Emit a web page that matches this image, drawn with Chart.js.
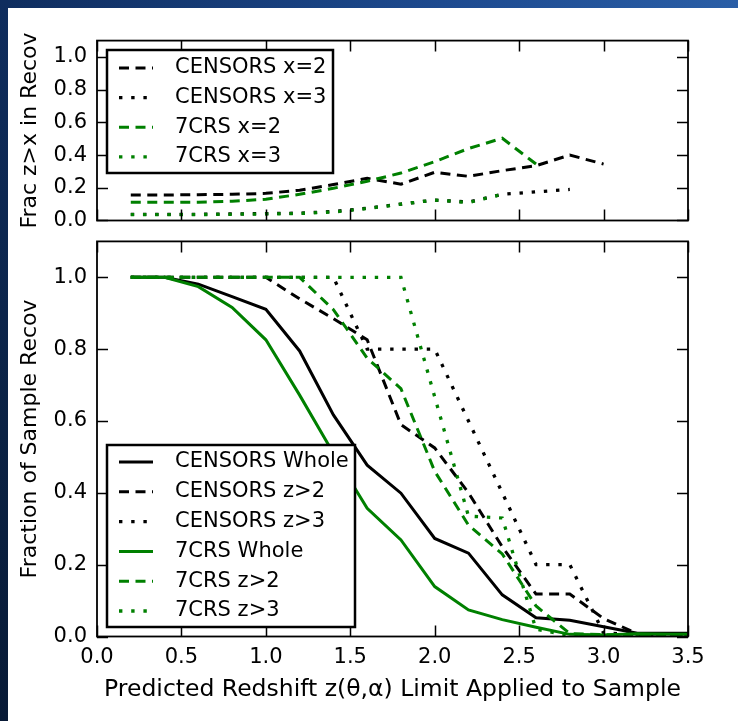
<!DOCTYPE html>
<html>
<head>
<meta charset="utf-8">
<script src="https://cdn.jsdelivr.net/npm/chart.js@4.4.1/dist/chart.umd.min.js"></script>
<style>
  html, body { margin: 0; padding: 0; }
  #page { position: relative; width: 738px; height: 721px; background: #fff; overflow: hidden; }
  #topband { position: absolute; left: 0; top: 0; width: 738px; height: 8px;
    background: linear-gradient(to right, #0f2d5e, #1d4a8f 60%, #2a5ea6); }
  #leftband { position: absolute; left: 0; top: 0; width: 8px; height: 721px;
    background: linear-gradient(to bottom, #0f2d5e, #0b2244 60%, #081a36); }
  canvas { position: absolute; left: 0; top: 0; }
</style>
</head>
<body>
<div id="page">
  <div id="topband"></div>
  <div id="leftband"></div>
  <canvas id="topChart" width="738" height="721"></canvas>
  <canvas id="bottomChart" width="738" height="721"></canvas>
</div>
<script>
// --- dados do painel superior (fração com z > x) ---
const zTop = [0.2, 0.4, 0.6, 0.8, 1.0, 1.2, 1.4, 1.6, 1.8, 2.0, 2.2, 2.4, 2.6, 2.8, 3.0]
const censorsX2 = [0.156, 0.156, 0.158, 0.16, 0.166, 0.185, 0.22, 0.258, 0.222, 0.295, 0.27, 0.305, 0.335, 0.40, 0.345]
const censorsX3 = [0.038, 0.038, 0.038, 0.04, 0.042, 0.045, 0.055, 0.075, 0.10, 0.125, 0.113, 0.16, 0.175, 0.19]
const crsX2 = [0.111, 0.111, 0.112, 0.118, 0.13, 0.16, 0.197, 0.24, 0.29, 0.36, 0.44, 0.503, 0.345]
const crsX3 = [0.036, 0.036, 0.036, 0.038, 0.04, 0.043, 0.052, 0.073, 0.10, 0.125, 0.11, 0.16]

// --- dados do painel inferior (fração da amostra recuperada) ---
const zBottom = [0.2, 0.4, 0.6, 0.8, 1.0, 1.2, 1.4, 1.6, 1.8, 2.0, 2.2, 2.4, 2.6, 2.8, 3.0, 3.2, 3.4, 3.6]
const censorsWhole = [1.0, 1.0, 0.981, 0.946, 0.911, 0.795, 0.617, 0.477, 0.399, 0.273, 0.232, 0.116, 0.052, 0.045, 0.027, 0.009, 0.009, 0.009]
const censorsZ2 = [1.0, 1.0, 1.0, 1.0, 1.0, 0.94, 0.885, 0.826, 0.59, 0.525, 0.40, 0.25, 0.118, 0.118, 0.05, 0.008, 0.006, 0.006]
const censorsZ3 = [1.0, 1.0, 1.0, 1.0, 1.0, 1.0, 1.0, 0.80, 0.80, 0.80, 0.60, 0.40, 0.20, 0.20, 0.01, 0.005, 0.005, 0.005]
const crsWhole = [1.0, 1.0, 0.974, 0.916, 0.826, 0.672, 0.51, 0.357, 0.269, 0.139, 0.074, 0.047, 0.026, 0.006, 0.004, 0.008, 0.006, 0.006]
const crsZ2 = [1.0, 1.0, 1.0, 1.0, 1.0, 1.0, 0.91, 0.775, 0.69, 0.46, 0.31, 0.23, 0.085, 0.008, 0.005, 0.004, 0.004, 0.004]
const crsZ3 = [1.0, 1.0, 1.0, 1.0, 1.0, 1.0, 1.0, 1.0, 1.0, 0.667, 0.335, 0.33, 0.02, 0.003, 0.003, 0.003, 0.003, 0.003]

const xTicks = [0.0, 0.5, 1.0, 1.5, 2.0, 2.5, 3.0, 3.5]
const yTicks = [0.0, 0.2, 0.4, 0.6, 0.8, 1.0]

const GREEN = "#008000"
const BLACK = "#000000"
const DASH = [10, 6.5]
const DOT = [3.4, 8.8]

Chart.defaults.font.family = "'DejaVu Sans', sans-serif"
Chart.defaults.font.size = 21
Chart.defaults.color = "#000"

const pts = (xs, ys) => ys.map((y, i) => ({ x: xs[i], y: y }))

function line(label, xs, ys, color, dash, width, order) {
  return {
    label: label,
    data: pts(xs, ys),
    borderColor: color,
    borderDash: dash,
    borderWidth: width,
    pointRadius: 0,
    fill: false,
    tension: 0,
    order: order,
  }
}

// moldura + ticks para dentro nos 4 lados (estilo matplotlib)
const frameTicks = {
  id: "frameTicks",
  afterDatasetsDraw(chart) {
    const { ctx, chartArea: a, scales } = chart
    const len = 11
    ctx.save()
    ctx.setLineDash([])
    ctx.strokeStyle = "#000"
    ctx.lineWidth = 1.5
    xTicks.forEach((v) => {
      const px = Math.round(scales.x.getPixelForValue(v)) + 0.5
      ctx.beginPath()
      ctx.moveTo(px, a.bottom); ctx.lineTo(px, a.bottom - len)
      ctx.moveTo(px, a.top); ctx.lineTo(px, a.top + len)
      ctx.stroke()
    })
    yTicks.forEach((v) => {
      const py = Math.round(scales.y.getPixelForValue(v)) + 0.5
      ctx.beginPath()
      ctx.moveTo(a.left, py); ctx.lineTo(a.left + len, py)
      ctx.moveTo(a.right, py); ctx.lineTo(a.right - len, py)
      ctx.stroke()
    })
    ctx.lineWidth = 1.8
    ctx.strokeRect(a.left, a.top, a.right - a.left, a.bottom - a.top)
    ctx.restore()
  },
}

// legenda em caixa dentro do gráfico
const boxLegend = {
  id: "boxLegend",
  afterDraw(chart, args, opts) {
    const { ctx } = chart
    const b = opts.box
    ctx.save()
    ctx.fillStyle = "#fff"
    ctx.fillRect(b.x, b.y, b.w, b.h)
    ctx.lineWidth = 2.5
    ctx.strokeStyle = "#000"
    ctx.setLineDash([])
    ctx.strokeRect(b.x, b.y, b.w, b.h)
    ctx.font = "21px 'DejaVu Sans', sans-serif"
    ctx.textBaseline = "middle"
    chart.data.datasets.forEach((ds, i) => {
      const y = b.y + opts.first + i * opts.step
      ctx.beginPath()
      ctx.setLineDash(ds.borderDash || [])
      ctx.strokeStyle = ds.borderColor
      ctx.lineWidth = ds.borderWidth
      ctx.moveTo(b.x + 12, y)
      ctx.lineTo(b.x + 46, y)
      ctx.stroke()
      ctx.setLineDash([])
      ctx.fillStyle = "#000"
      ctx.fillText(ds.label, b.x + 68, y)
    })
    ctx.restore()
  },
}

function axes(xTitle, yTitle, showX, xHeight) {
  return {
    x: {
      type: "linear",
      min: 0,
      max: 3.5,
      grid: { display: false, drawTicks: false },
      border: { display: false },
      ticks: {
        display: showX,
        stepSize: 0.5,
        padding: 8,
        callback: (v) => v.toFixed(1),
      },
      title: {
        display: !!xTitle,
        text: xTitle,
        font: { size: 23.5 },
        padding: { top: 0, bottom: 17 },
      },
      afterFit: (s) => { s.height = xHeight },
    },
    y: {
      min: 0,
      max: 1.1,
      grid: { display: false, drawTicks: false },
      border: { display: false },
      ticks: {
        stepSize: 0.2,
        includeBounds: false,
        padding: 10,
        callback: (v) => v.toFixed(1),
      },
      title: {
        display: true,
        text: yTitle,
        font: { size: 22 },
        padding: { top: 17, bottom: 0 },
      },
      afterFit: (s) => { s.width = 97 },
    },
  }
}

new Chart(document.getElementById("topChart"), {
  type: "line",
  data: {
    datasets: [
      line("CENSORS x=2", zTop, censorsX2, BLACK, DASH, 3, 2),
      line("CENSORS x=3", zTop, censorsX3, BLACK, DOT, 3.3, 2),
      line("7CRS x=2", zTop, crsX2, GREEN, DASH, 3, 1),
      line("7CRS x=3", zTop, crsX3, GREEN, DOT, 3.3, 1),
    ],
  },
  options: {
    responsive: false,
    animation: false,
    layout: { padding: { left: 0, top: 40.6, right: 50, bottom: 0 } },
    scales: axes("", "Frac z>x in Recov", false, 721 - 220.5),
    plugins: {
      legend: { display: false },
      tooltip: { enabled: false },
      boxLegend: { box: { x: 107, y: 50, w: 226, h: 123 }, first: 18, step: 29.6 },
    },
  },
  plugins: [frameTicks, boxLegend],
})

new Chart(document.getElementById("bottomChart"), {
  type: "line",
  data: {
    datasets: [
      line("CENSORS Whole", zBottom, censorsWhole, BLACK, [], 3, 2),
      line("CENSORS z>2", zBottom, censorsZ2, BLACK, DASH, 3, 2),
      line("CENSORS z>3", zBottom, censorsZ3, BLACK, DOT, 3.3, 2),
      line("7CRS Whole", zBottom, crsWhole, GREEN, [], 3, 1),
      line("7CRS z>2", zBottom, crsZ2, GREEN, DASH, 3, 1),
      line("7CRS z>3", zBottom, crsZ3, GREEN, DOT, 3.3, 1),
    ],
  },
  options: {
    responsive: false,
    animation: false,
    layout: { padding: { left: 0, top: 241.4, right: 50, bottom: 0 } },
    scales: axes("Predicted Redshift z(\u03b8,\u03b1) Limit Applied to Sample", "Fraction of Sample Recov", true, 721 - 636.5),
    plugins: {
      legend: { display: false },
      tooltip: { enabled: false },
      boxLegend: { box: { x: 107, y: 445, w: 248, h: 182 }, first: 17, step: 29.8 },
    },
  },
  plugins: [frameTicks, boxLegend],
})
</script>
</body>
</html>
